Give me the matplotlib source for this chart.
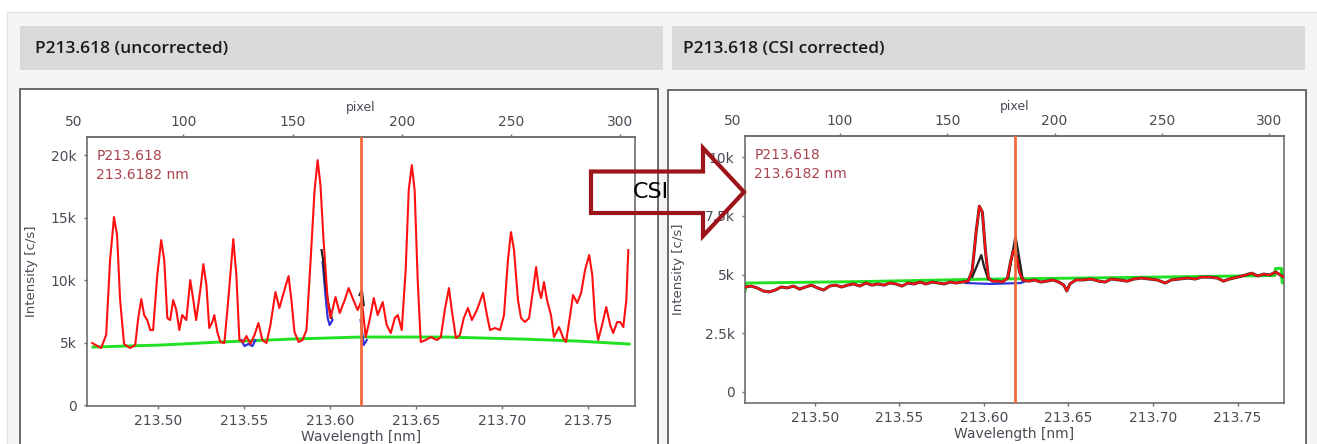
import numpy as np
import matplotlib
matplotlib.use("Agg")
import matplotlib.pyplot as plt
from matplotlib.patches import Rectangle, Polygon

# detector dispersion: wavelength = WL0 + DISP * pixel
WL0 = 213.3876
DISP = 0.001271
LINE_WL = 213.6182
XMIN, XMAX = 213.4587, 213.7775

wl_ticks = [213.50, 213.55, 213.60, 213.65, 213.70, 213.75]
wl_labels = ["213.50", "213.55", "213.60", "213.65", "213.70", "213.75"]
pix_ticks = [100, 150, 200, 250, 300]

# ===== uncorrected spectrum (pixel, c/s) =====
raw_pix = [58.3, 62.4, 64.7, 66.5, 68.3, 69.7, 71.1, 72.9, 75.7, 78.0,
           79.4, 80.8, 82.1, 83.5, 84.9, 86.2, 88.1, 89.9, 91.3, 92.7,
           94.0, 95.4, 96.8, 98.2, 99.5, 101.4, 103.2, 104.6, 105.9, 107.8,
           109.2, 110.6, 111.9, 113.3, 114.2, 115.6, 117.0, 118.8, 120.6, 122.9,
           124.3, 125.7, 127.5, 128.9, 130.7, 132.6, 134.4, 136.2, 138.1, 139.9,
           142.2, 144.0, 146.3, 148.2, 149.5, 150.9, 152.8, 154.6, 156.4, 158.3,
           160.1, 161.5, 162.8, 164.2, 166.1, 167.4, 169.7, 171.6, 173.9, 175.7,
           177.5, 179.8, 181.7, 183.5, 185.3, 187.2, 189.0, 191.3, 193.1, 195.0,
           196.8, 198.2, 200.0, 201.8, 203.2, 204.6, 205.9, 207.3, 208.7, 211.0,
           213.3, 216.1, 217.9, 219.7, 221.6, 222.9, 224.8, 226.6, 228.4, 230.3,
           232.1, 234.4, 237.2, 239.0, 240.4, 242.7, 245.0, 246.8, 248.6, 250.0,
           251.4, 253.2, 254.6, 256.4, 258.3, 260.1, 261.5, 262.8, 263.8, 265.1,
           266.5, 268.3, 269.7, 272.0, 273.9, 275.2, 277.1, 278.4, 280.3, 282.1,
           283.9, 285.8, 287.2, 288.5, 289.9, 291.7, 293.6, 295.4, 296.8, 298.6,
           300.0, 301.4, 302.8, 303.7]
raw_int = [4960, 4560, 5600, 11600, 15040, 13600, 8400, 4880, 4560, 4800,
           6960, 8480, 7200, 6800, 6000, 6000, 10400, 13200, 11600, 6960,
           6800, 8400, 7600, 6000, 7200, 6800, 10000, 8400, 6800, 9200,
           11280, 9600, 6160, 6640, 7200, 5840, 5040, 4960, 8400, 13280,
           10400, 5200, 5040, 5520, 4880, 5600, 6560, 5200, 4960, 6400,
           9040, 7760, 9200, 10320, 8400, 5840, 5040, 5200, 6000, 11600,
           17200, 19600, 17600, 13200, 8400, 6960, 8640, 7360, 8400, 9360,
           8560, 7600, 8400, 5440, 6800, 8560, 7200, 8240, 6400, 5760,
           6960, 7200, 6000, 10800, 17200, 19200, 17200, 10000, 5040, 5200,
           5440, 5200, 5440, 7600, 9360, 7600, 5360, 5600, 6960, 7760,
           6800, 7600, 8960, 7200, 6000, 6160, 6000, 7200, 11600, 13840,
           12400, 8400, 6960, 6640, 6960, 9200, 11040, 9200, 8560, 9840,
           8400, 7200, 5440, 6240, 5360, 5040, 7200, 8800, 8160, 8960,
           10800, 12000, 10400, 6800, 5200, 6400, 7840, 6400, 5760, 6640,
           6640, 6240, 8400, 12400]
raw_black_pix = [163.3, 164.2, 165.1, 166.5, 167.9, np.nan, 180.7, 181.7, 182.6]
raw_black_int = [12400, 11440, 9600, 8000, 6960, np.nan, 8800, 9200, 8000]
raw_blue_pix = [163.8, 165.1, 166.1, 167.0, 168.3, np.nan, 181.2, 182.6, 184.0,
                np.nan, 126.6, 128.0, 129.8, 131.7, 133.0]
raw_blue_int = [11440, 8800, 6960, 6400, 6800, np.nan, 6800, 4800, 5200,
                np.nan, 5200, 4720, 4880, 4720, 5200]
raw_base_pix = [58.7, 90.0, 116.9, 150.0, 181.2, 220.0, 254.6, 280.0, 304.1]
raw_base_int = [4640, 4800, 5040, 5280, 5440, 5440, 5280, 5120, 4880]

# ===== CSI corrected spectrum =====
csi_pix = [56.0, 58.8, 61.6, 64.4, 67.2, 70.0, 72.8, 75.6, 78.5, 81.3,
           84.1, 86.9, 89.7, 92.5, 95.3, 98.1, 100.9, 103.7, 106.5, 109.4,
           112.2, 115.0, 117.8, 120.6, 123.4, 126.2, 129.0, 131.8, 134.6, 137.4,
           140.2, 143.0, 145.8, 148.6, 151.4, 154.2, 157.0, 159.8, 161.7, 163.6,
           165.0, 166.4, 167.8, 169.2, 171.1, 173.4, 175.7, 178.1, 179.5, 180.9,
           182.3, 183.7, 185.1, 187.9, 190.7, 193.5, 196.3, 199.2, 202.0, 204.3,
           205.7, 207.1, 209.9, 213.2, 216.9, 220.7, 223.5, 226.3, 230.0, 233.8,
           237.0, 240.3, 244.1, 247.8, 251.5, 254.3, 258.1, 261.8, 265.5, 268.3,
           272.1, 275.8, 278.6, 281.4, 285.2, 288.9, 291.7, 294.5, 297.3, 300.1,
           302.9, 305.7, 307.2]
csi_int = [4470, 4510, 4430, 4300, 4260, 4340, 4470, 4430, 4510, 4380,
           4470, 4550, 4430, 4340, 4510, 4550, 4470, 4550, 4600, 4510,
           4640, 4550, 4600, 4550, 4640, 4600, 4510, 4640, 4600, 4680,
           4600, 4680, 4640, 4600, 4680, 4640, 4680, 4720, 5190, 6890,
           7910, 7660, 6040, 4850, 4720, 4720, 4680, 4850, 5530, 6040,
           5790, 5110, 4770, 4720, 4770, 4680, 4720, 4770, 4680, 4550,
           4300, 4600, 4770, 4770, 4810, 4720, 4680, 4810, 4770, 4720,
           4810, 4850, 4810, 4770, 4640, 4770, 4810, 4850, 4810, 4890,
           4890, 4850, 4720, 4810, 4890, 4980, 5060, 4940, 5020, 4980,
           5110, 4940, 4890]
csi_black_pix = [161.7, 164.0, 165.9, 167.3, 169.2, np.nan, 178.5, 180.4, 181.8, 183.2, 185.1]
csi_black_int = [4900, 5400, 5830, 5300, 4800, np.nan, 4900, 5900, 6640, 5900, 4850]
csi_blue_pix = [158.5, 170.2, 184.2, 186.0]
csi_blue_int = [4640, 4600, 4640, 4700]
csi_base_pix = [56.0, 56.4, 110.0, 165.0, 230.0, 302.5, 302.8, 305.6, 305.9, 307.2]
csi_base_int = [4300, 4640, 4700, 4800, 4870, 4960, 5260, 5260, 4650, 4650]


def pix_to_wl(p):
    return WL0 + DISP * np.asarray(p, dtype=float)


def wl_to_pix(w):
    return (np.asarray(w, dtype=float) - WL0) / DISP


# ===== figure and page layout (pixels) =====
W, H = 1317, 444
fig = plt.figure(figsize=(W / 100, H / 100), dpi=100)
FRAME = "#6e6e6e"
TXT = "#4b4b55"
ANN = "#a8434f"


def px_box(x0, y0, x1, y1):
    return [x0 / W, 1 - y1 / H, (x1 - x0) / W, (y1 - y0) / H]


def add_rect(x0, y0, x1, y1, z, **kw):
    l, b, w, h = px_box(x0, y0, x1, y1)
    fig.patches.append(Rectangle((l, b), w, h, transform=fig.transFigure,
                                 zorder=z, **kw))


add_rect(7, 12, 1340, 470, -5, facecolor="#f5f5f5", edgecolor="#e3e3e3", lw=1)
add_rect(20, 26, 663, 70, -4, facecolor="#d9d9d9", edgecolor="none")
add_rect(672, 26, 1305, 70, -4, facecolor="#d9d9d9", edgecolor="none")
add_rect(20, 89, 658, 470, -4, facecolor="white", edgecolor="#5f5f5f", lw=1.3)
add_rect(668, 90, 1306, 470, -4, facecolor="white", edgecolor="#5f5f5f", lw=1.3)

hdr_font = ["Open Sans", "DejaVu Sans"]
fig.text(35 / W, 1 - 49 / H, "P213.618 (uncorrected)", fontsize=12.5,
         fontweight="semibold", family=hdr_font, color="#1a1a1a", va="center")
fig.text(683 / W, 1 - 49 / H, "P213.618 (CSI corrected)", fontsize=12.5,
         fontweight="semibold", family=hdr_font, color="#1a1a1a", va="center")


def style_panel(ax, yticks, ylabels, ylim, ylabel_x):
    ax.set_xlim(XMIN, XMAX)
    ax.set_ylim(*ylim)
    ax.set_xticks(wl_ticks)
    ax.set_xticklabels(wl_labels)
    ax.set_yticks(yticks)
    ax.set_yticklabels(ylabels)
    for s in ax.spines.values():
        s.set_color(FRAME)
        s.set_linewidth(1.2)
    ax.tick_params(axis="both", direction="out", length=2.5, width=1,
                   color=FRAME, labelsize=10, labelcolor=TXT)
    ax.tick_params(axis="x", pad=3.5)
    ax.tick_params(axis="y", pad=5)
    ax.set_xlabel("Wavelength [nm]", fontsize=10, color=TXT, labelpad=1)
    ax.set_ylabel("Intensity [c/s]", fontsize=9.5, color=TXT)
    ax.yaxis.set_label_coords(ylabel_x, 0.5)

    sec = ax.secondary_xaxis("top", functions=(wl_to_pix, pix_to_wl))
    sec.set_xticks(pix_ticks)
    sec.tick_params(direction="out", length=2.5, width=1, color=FRAME,
                    labelsize=10, labelcolor=TXT, pad=3)
    sec.spines["top"].set_color(FRAME)
    sec.spines["top"].set_linewidth(1.2)
    sec.set_xlabel("pixel", fontsize=9, color=TXT, labelpad=3)
    # pixel 50 lies just left of the plot area, its label is still shown
    ax.annotate("50", xy=(pix_to_wl(50), 1), xycoords=("data", "axes fraction"),
                xytext=(0, 5.5), textcoords="offset points", ha="center",
                va="bottom", fontsize=10, color=TXT, annotation_clip=False)

    ax.axvline(LINE_WL, color="#f26a3c", lw=2.0, zorder=6)
    ax.text(0.017, 0.955, "P213.618\n213.6182 nm", transform=ax.transAxes,
            va="top", ha="left", fontsize=10, color=ANN, linespacing=1.45)


# ===== left: uncorrected =====
ax1 = fig.add_axes(px_box(87, 137, 635, 406))
style_panel(ax1, [0, 5000, 10000, 15000, 20000], ["0", "5k", "10k", "15k", "20k"],
            (-80, 21450), -0.090)
ax1.plot(pix_to_wl(raw_base_pix), raw_base_int, color="#22e022", lw=2.1, zorder=2)
ax1.plot(pix_to_wl(raw_blue_pix), raw_blue_int, color="#3333dd", lw=1.6, zorder=3)
ax1.plot(pix_to_wl(raw_black_pix), raw_black_int, color="#222222", lw=1.6, zorder=3)
ax1.plot(pix_to_wl(raw_pix), raw_int, color="#ff1010", lw=1.5, zorder=4)

# ===== right: CSI corrected =====
ax2 = fig.add_axes(px_box(745, 136, 1284, 403))
style_panel(ax2, [0, 2500, 5000, 7500, 10000], ["0", "2.5k", "5k", "7.5k", "10k"],
            (-470, 10900), -0.112)
ax2.plot(pix_to_wl(csi_base_pix), csi_base_int, color="#22e022", lw=2.1, zorder=2)
ax2.plot(pix_to_wl(csi_blue_pix), csi_blue_int, color="#3333dd", lw=1.6, zorder=3)
ax2.plot(pix_to_wl(csi_pix), csi_int, color="#333333", lw=2.2, zorder=3)
ax2.plot(pix_to_wl(csi_black_pix), csi_black_int, color="#222222", lw=1.6, zorder=3)
ax2.plot(pix_to_wl(csi_pix), csi_int, color="#ff1010", lw=1.5, zorder=4)

# ===== CSI arrow between the panels =====
arrow_px = [(591, 171.5), (703, 171.5), (703, 148), (744, 192),
            (703, 236), (703, 213), (591, 213)]
arrow_fig = [(x / W, 1 - y / H) for x, y in arrow_px]
fig.patches.append(Polygon(arrow_fig, closed=True, fill=False, edgecolor="#9c1319",
                           lw=3, joinstyle="miter", transform=fig.transFigure,
                           zorder=8))
fig.text(651 / W, 1 - 192 / H, "CSI", ha="center", va="center", fontsize=16,
         family=["Liberation Sans Narrow", "DejaVu Sans"], color="black", zorder=9)

fig.savefig("out.png", dpi=100)
